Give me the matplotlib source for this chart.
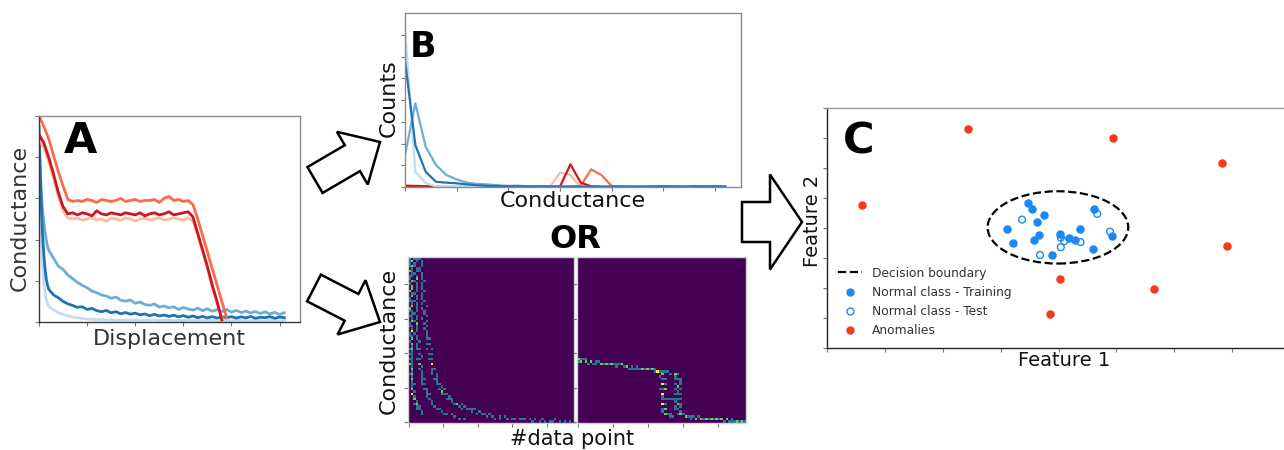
import numpy as np
import matplotlib
matplotlib.use("Agg")
import matplotlib.pyplot as plt
import matplotlib.patches as mpatches
from matplotlib.lines import Line2D

FIG_W, FIG_H = 1284, 450

# ---------------- panel A: conductance traces ----------------
blue_x = [0, 5, 10, 15, 20, 25, 30, 35] + list(range(40, 1040, 20))
blue_light = [0.88, 0.62, 0.42, 0.28, 0.19, 0.14, 0.11, 0.09,
              0.075, 0.060, 0.045, 0.036, 0.030, 0.024, 0.021, 0.017, 0.014, 0.013,
              0.011, 0.012, 0.009, 0.011, 0.008, 0.010, 0.009, 0.008, 0.010, 0.007,
              0.009, 0.008, 0.010, 0.007, 0.009, 0.008, 0.007, 0.009, 0.006, 0.008,
              0.007, 0.009, 0.006, 0.008, 0.007, 0.006, 0.008, 0.007, 0.006, 0.008,
              0.006, 0.007, 0.005, 0.007, 0.006, 0.005, 0.007, 0.006, 0.005, 0.006]
blue_mid = [0.89, 0.75, 0.62, 0.54, 0.49, 0.44, 0.40, 0.37,
            0.350, 0.310, 0.272, 0.255, 0.228, 0.210, 0.192, 0.178, 0.166, 0.150,
            0.142, 0.131, 0.126, 0.115, 0.121, 0.106, 0.101, 0.107, 0.091, 0.097,
            0.085, 0.081, 0.088, 0.072, 0.078, 0.068, 0.074, 0.061, 0.071, 0.063,
            0.058, 0.067, 0.055, 0.064, 0.052, 0.060, 0.050, 0.061, 0.048, 0.056,
            0.046, 0.053, 0.044, 0.051, 0.041, 0.049, 0.039, 0.047, 0.036, 0.045]
blue_dark = [0.95, 0.74, 0.55, 0.42, 0.33, 0.26, 0.21, 0.18,
             0.160, 0.132, 0.118, 0.100, 0.088, 0.080, 0.071, 0.074, 0.061, 0.066,
             0.055, 0.050, 0.056, 0.045, 0.050, 0.040, 0.046, 0.038, 0.043, 0.035,
             0.039, 0.031, 0.037, 0.029, 0.034, 0.027, 0.033, 0.025, 0.031, 0.023,
             0.029, 0.021, 0.027, 0.020, 0.026, 0.019, 0.025, 0.021, 0.026, 0.019,
             0.025, 0.020, 0.027, 0.018, 0.023, 0.021, 0.026, 0.018, 0.024, 0.021]

RED_STEP = 20  # red traces sampled every 20 points
red_pale = [0.88, 0.85, 0.78, 0.70, 0.61, 0.54, 0.505, 0.50,
            0.505, 0.495, 0.50, 0.505, 0.495, 0.50, 0.49, 0.505, 0.50, 0.495, 0.505, 0.50,
            0.49, 0.50, 0.505, 0.495, 0.50, 0.505, 0.495, 0.50, 0.505, 0.50, 0.495, 0.505,
            0.49, 0.42, 0.34, 0.26, 0.17, 0.09, 0.02]
red_orange = [1.00, 0.95, 0.89, 0.81, 0.73, 0.66, 0.595, 0.585,
              0.59, 0.585, 0.595, 0.59, 0.58, 0.595, 0.59, 0.585, 0.59, 0.60, 0.585, 0.59,
              0.595, 0.585, 0.59, 0.59, 0.595, 0.58, 0.60, 0.61, 0.59, 0.595, 0.585, 0.59,
              0.57, 0.50, 0.42, 0.34, 0.26, 0.18, 0.10, 0.02]
red_dark = [0.91, 0.87, 0.80, 0.72, 0.63, 0.56, 0.525, 0.53,
            0.52, 0.53, 0.525, 0.515, 0.54, 0.525, 0.52, 0.53, 0.525, 0.52, 0.53, 0.525,
            0.52, 0.53, 0.515, 0.525, 0.53, 0.52, 0.525, 0.535, 0.52, 0.525, 0.53, 0.535,
            0.51, 0.43, 0.35, 0.27, 0.18, 0.10, 0.01]

# ---------------- panel B: conductance histograms ----------------
HIST_BIN = 0.2
hist_blue_light = [7.30, 0.70, 0.18, 0.03, 0, 0, 0, 0,
                   0, 0, 0, 0, 0, 0, 0, 0,
                   0, 0, 0, 0, 0, 0, 0, 0,
                   0, 0, 0, 0, 0, 0, 0, 0]
hist_blue_mid = [1.47, 3.85, 1.85, 1.01, 0.55, 0.35, 0.20, 0.14,
                 0.12, 0.08, 0.05, 0.06, 0.03, 0.02, 0.02, 0.01,
                 0.01, 0, 0, 0, 0, 0, 0, 0,
                 0, 0, 0, 0, 0, 0, 0, 0]
hist_blue_dark = [5.84, 1.93, 0.70, 0.24, 0.20, 0.17, 0.12, 0.08,
                  0.05, 0.04, 0.03, 0.03, 0.02, 0.03, 0.02, 0.02,
                  0.02, 0.02, 0.02, 0.02, 0.02, 0.02, 0.02, 0.02,
                  0.02, 0.02, 0.02, 0.02, 0.02, 0.02, 0.02, 0.02]
hist_red_pale = [0.04, 0.04, 0.03, 0, 0, 0, 0, 0,
                 0, 0, 0, 0, 0, 0, 0, 0.66,
                 0.55, 0, 0, 0, 0, 0, 0, 0,
                 0, 0, 0, 0, 0, 0, 0, 0]
hist_red_orange = [0.03, 0.03, 0.02, 0, 0, 0, 0, 0,
                   0, 0, 0, 0, 0, 0, 0, 0,
                   0, 0.05, 0.81, 0.55, 0.04, 0.02, 0, 0,
                   0.02, 0, 0.03, 0, 0, 0.02, 0, 0]
hist_red_dark = [0.06, 0.05, 0.04, 0.01, 0, 0, 0, 0,
                 0, 0, 0, 0, 0, 0, 0, 0.03,
                 1.04, 0.20, 0.03, 0, 0, 0, 0, 0,
                 0, 0.03, 0, 0, 0.03, 0, 0.03, 0]

# ---------------- 2D histograms: (#data point, conductance) samples ----------------
heat_left_1 = [(1, 99), (2, 98), (1, 96), (3, 95), (2, 93), (1, 92), (2, 90), (3, 89), (1, 87), (2, 86),
               (1, 84), (3, 82), (2, 81), (1, 79), (2, 77), (3, 76), (1, 74), (2, 72), (2, 71), (1, 69),
               (3, 67), (2, 66), (1, 64), (2, 62), (3, 61), (1, 59), (2, 57), (2, 56), (1, 54), (3, 52),
               (2, 51), (1, 49), (2, 47), (3, 46), (2, 44), (1, 42), (2, 41), (3, 39), (2, 37), (1, 36),
               (2, 34), (3, 32), (2, 31), (2, 29), (3, 27), (2, 26), (3, 24), (2, 22), (3, 21), (4, 19),
               (3, 17), (4, 16), (4, 14), (5, 12), (4, 11), (5, 10), (6, 9), (7, 8), (8, 7), (9, 6),
               (1, 92), (2, 81), (1, 69), (2, 56), (2, 44), (1, 36), (2, 29), (3, 17),
               (0.5, 98), (3, 97), (0.5, 94), (2, 95), (3, 91), (1, 88), (3, 85), (2, 83), (0.5, 80),
               (3, 78), (1, 75), (2, 73), (3, 70), (1, 67), (2, 65), (3, 63), (1, 60), (2, 58), (3, 55),
               (1, 52), (2, 50), (3, 48), (1, 45), (3, 43), (2, 40), (1, 38), (3, 35), (2, 33), (1, 30),
               (3, 28), (2, 25), (4, 23), (3, 20), (2, 18), (4, 15), (5, 13), (6, 11), (7, 10)]
heat_left_2 = [(5, 99), (4, 96), (5, 93), (4, 90), (5, 87), (6, 84), (5, 81), (4, 78), (5, 75), (6, 72),
               (5, 69), (4, 66), (5, 63), (6, 60), (5, 57), (4, 54), (6, 51), (5, 48), (6, 45), (7, 42),
               (6, 39), (7, 36), (7, 33), (8, 30), (8, 27), (9, 25), (9, 23), (10, 21), (11, 19), (11, 17),
               (12, 16), (13, 14), (14, 13), (15, 11), (16, 10), (17, 9), (19, 8), (20, 7), (22, 6), (24, 5),
               (26, 5), (28, 4), (31, 3), (34, 3), (5, 87), (6, 60), (7, 36),
               (4, 99), (6, 97), (4, 94), (6, 91), (5, 88), (4, 85), (6, 82), (5, 79), (6, 76), (4, 73),
               (6, 70), (5, 67), (6, 64), (4, 61), (6, 58), (5, 55), (5, 52), (7, 49), (6, 46), (7, 44),
               (8, 40), (7, 38), (8, 34), (9, 31), (9, 28), (10, 26), (10, 24), (12, 20), (13, 18)]
heat_left_3 = [(7, 99), (8, 96), (7, 93), (8, 90), (8, 87), (9, 84), (8, 81), (9, 78), (8, 75), (9, 72),
               (9, 69), (10, 66), (9, 63), (10, 60), (10, 57), (11, 54), (11, 51), (12, 48), (12, 45), (13, 42),
               (13, 39), (14, 36), (14, 33), (15, 31), (15, 29), (16, 27), (17, 25), (18, 23), (19, 21), (20, 19),
               (21, 18), (22, 17), (23, 15), (25, 14), (26, 13), (28, 12), (29, 11), (31, 10), (33, 9), (35, 8),
               (37, 8), (39, 7), (41, 6), (44, 5), (47, 4), (50, 4), (53, 3), (56, 3), (60, 3), (63, 2),
               (67, 2), (71, 2), (75, 1), (79, 1), (83, 1), (87, 1), (92, 1), (97, 1), (14, 36), (20, 19),
               (8, 98), (9, 94), (7, 91), (9, 88), (10, 85), (8, 83), (10, 79), (9, 76), (10, 73), (11, 70),
               (10, 68), (11, 64), (11, 61), (12, 58), (12, 55), (12, 52), (13, 50), (13, 47), (14, 44), (14, 41),
               (15, 38), (15, 35), (16, 32), (17, 30), (17, 28), (18, 26), (19, 24), (21, 22), (22, 20), (24, 18),
               (25, 16), (27, 15), (30, 12), (32, 11), (34, 10), (38, 9), (40, 8), (43, 7), (46, 6), (49, 5),
               (55, 4), (58, 4), (65, 3), (69, 3), (73, 2), (77, 2), (81, 2), (85, 1), (89, 2), (94, 1)]
heat_right_1 = [(0, 38), (2, 37), (4, 38), (6, 37), (8, 37), (10, 36), (13, 37), (15, 36), (18, 35), (20, 36),
                (23, 35), (25, 35), (28, 34), (30, 34), (33, 33), (35, 34), (38, 33), (40, 33), (43, 32), (45, 32),
                (47, 31), (49, 31), (50, 30), (51, 29), (50, 27), (52, 26), (51, 24), (50, 23), (51, 21), (52, 20),
                (50, 18), (51, 17), (52, 15), (51, 14), (50, 12), (51, 11), (52, 9), (50, 8), (51, 7), (52, 6),
                (53, 5), (54, 5), (51, 24), (50, 12), (52, 20), (51, 17), (54, 15), (56, 15), (57, 15), (55, 4),
                (56, 5), (57, 4), (1, 38), (3, 37), (5, 38), (11, 37), (17, 36), (22, 35), (27, 35), (32, 34),
                (37, 33), (42, 33), (46, 32), (48, 31), (49, 28), (52, 24), (50, 16), (52, 11), (49, 20), (53, 8)]
heat_right_2 = [(1, 37), (3, 38), (5, 37), (7, 36), (9, 37), (12, 36), (14, 36), (16, 35), (19, 35), (21, 35),
                (24, 34), (26, 35), (29, 34), (31, 33), (34, 33), (36, 33), (39, 32), (41, 32), (44, 32), (46, 31),
                (48, 31), (50, 31), (52, 31), (54, 31), (56, 30), (58, 30), (59, 30), (60, 29), (59, 28), (60, 26),
                (61, 25), (59, 24), (60, 22), (61, 21), (60, 19), (59, 18), (60, 17), (61, 15), (60, 14), (59, 13),
                (60, 11), (61, 10), (60, 9), (59, 8), (60, 6), (61, 5), (60, 22), (60, 11), (62, 5), (64, 4),
                (66, 4), (68, 4), (70, 3), (72, 4), (74, 3), (76, 3), (78, 3), (80, 2), (82, 3), (84, 2),
                (86, 2), (88, 2), (90, 1), (92, 2), (94, 1), (96, 1), (98, 1),
                (58, 27), (61, 23), (59, 20), (61, 17), (58, 15), (61, 12), (59, 10), (61, 7), (62, 26),
                (63, 5), (65, 4), (67, 3), (69, 4), (71, 3), (73, 3), (75, 3), (77, 2), (79, 3), (81, 2),
                (83, 2), (85, 2), (87, 1), (89, 2), (91, 1), (93, 1), (95, 1), (97, 1), (99, 1)]
HEAT_BINS = 66

# ---------------- panel C: feature space ----------------
train_x = [3.48, 3.54, 3.75, 3.63, 3.11, 3.66, 3.22, 3.57, 4.02, 4.18, 4.29, 4.37, 4.61, 4.92, 4.60, 3.89]
train_y = [4.83, 4.63, 4.42, 4.19, 3.96, 3.77, 3.49, 3.61, 3.79, 3.68, 3.60, 3.96, 4.64, 3.73, 3.29, 3.11]
test_x = [3.37, 4.67, 4.89, 4.04, 4.10, 4.38, 4.04, 3.68]
test_y = [4.28, 4.47, 3.88, 3.68, 3.56, 3.53, 3.36, 3.10]
anom_x = [2.43, 4.95, 6.83, 0.61, 6.91, 4.03, 5.65, 3.85]
anom_y = [7.30, 7.00, 6.18, 4.77, 3.40, 2.31, 1.96, 1.14]
boundary_center = (3.99, 4.02)
boundary_size = (2.43, 2.41)

BLUES = ["#c6dbef", "#6baed6", "#2171b5"]
REDS = ["#fcbba1", "#fb6a4a", "#cb181d"]
C_BLUE = "#1e88f2"
C_RED = "#f53a1d"


def box(left, top, right, bottom):
    """Pixel box (origin top-left) -> figure fraction rect."""
    return [left / FIG_W, 1 - bottom / FIG_H,
            (right - left) / FIG_W, (bottom - top) / FIG_H]


def style(ax, dark=None, light="#8c8c8c"):
    for name, sp in ax.spines.items():
        sp.set_color(dark if (dark and name in ("left", "bottom")) else light)
        sp.set_linewidth(1.0)
    ax.tick_params(length=3, width=0.8, color="#777777",
                   labelbottom=False, labelleft=False)


def heat_counts(traces):
    pts = np.concatenate([np.array(t, dtype=float) for t in traces])
    counts, _, _ = np.histogram2d(pts[:, 0], pts[:, 1], bins=HEAT_BINS,
                                  range=[[0, 100], [0, 100]])
    return counts.T


fig = plt.figure(figsize=(FIG_W / 100, FIG_H / 100), dpi=100)


def put(x, y, s, **kw):
    fig.text(x / FIG_W, 1 - y / FIG_H, s, **kw)


# panel A
axA = fig.add_axes(box(39, 116, 300, 322))
for ys, c in zip([blue_light, blue_mid, blue_dark], BLUES):
    axA.plot(blue_x, ys, color=c, lw=2.0)
for ys, c in zip([red_pale, red_orange, red_dark], REDS):
    axA.plot(np.arange(len(ys)) * RED_STEP, ys, color=c, lw=2.0)
axA.set_xlim(0, 1085)
axA.set_ylim(0, 1.0)
axA.set_xticks(range(0, 1001, 200))
axA.set_yticks(np.arange(0, 1.01, 0.2))
style(axA, dark="#3a3a3a")

# panel B
axB = fig.add_axes(box(405, 13, 741, 187))
hx = np.arange(len(hist_blue_dark)) * HIST_BIN
for ys, c in zip([hist_red_pale, hist_red_orange, hist_red_dark], REDS):
    axB.plot(hx, ys, color=c, lw=1.6)
for ys, c in zip([hist_blue_light, hist_blue_mid, hist_blue_dark], BLUES):
    axB.plot(hx, ys, color=c, lw=1.6)
axB.set_xlim(0, 6.5)
axB.set_ylim(0, 8)
axB.set_xticks(range(7))
axB.set_yticks(range(8))
style(axB)

# 2D histograms
for rect, traces in [((408, 257, 574, 423), [heat_left_1, heat_left_2, heat_left_3]),
                     ((577, 257, 746, 423), [heat_right_1, heat_right_2])]:
    axH = fig.add_axes(box(*rect))
    axH.imshow(heat_counts(traces), origin="lower", cmap="viridis", vmin=0, vmax=2.6,
               extent=(-0.5, 95.8, -0.5, 95.8), aspect="auto", interpolation="nearest")
    axH.set_xticks(range(0, 81, 20))
    axH.set_yticks(range(0, 81, 20))
    style(axH, light="#d0d0d0")

# panel C
axC = fig.add_axes(box(827, 108, 1290, 348))
axC.add_patch(mpatches.Ellipse(boundary_center, *boundary_size, fill=False,
                               ls="--", lw=1.6, color="black"))
axC.scatter(train_x, train_y, s=26, color=C_BLUE, zorder=3)
axC.scatter(test_x, test_y, s=24, facecolors="none", edgecolors=C_BLUE, lw=1.0, zorder=3)
axC.scatter(anom_x, anom_y, s=26, color=C_RED, zorder=3)
axC.set_xlim(0, 8)
axC.set_ylim(0, 8)
axC.set_xticks(range(9))
axC.set_yticks(range(9))
style(axC, dark="#222222", light="#999999")
handles = [Line2D([], [], color="black", ls="--", lw=1.6),
           Line2D([], [], ls="none", marker="o", ms=5, color=C_BLUE),
           Line2D([], [], ls="none", marker="o", ms=5, mfc="none", mec=C_BLUE),
           Line2D([], [], ls="none", marker="o", ms=5, color=C_RED)]
leg = axC.legend(handles, ["Decision boundary", "Normal class - Training",
                           "Normal class - Test", "Anomalies"],
                 loc="lower left", frameon=False, fontsize=8.8, handlelength=2.0,
                 handletextpad=0.8)
for t in leg.get_texts():
    t.set_color("#333333")

# axis labels and panel letters
lab = dict(ha="center", va="center")
put(20, 218, "Conductance", rotation=90, fontsize=16, color="#333333", **lab)
put(169, 339, "Displacement", fontsize=16, color="#333333", **lab)
put(389, 98, "Counts", rotation=90, fontsize=16, color="#111111", **lab)
put(573, 201, "Conductance", fontsize=16, color="#111111", **lab)
put(389, 341, "Conductance", rotation=90, fontsize=16, color="#111111", **lab)
put(572, 439, "#data point", fontsize=15, color="#111111", **lab)
put(812, 221, "Feature 2", rotation=90, fontsize=14, color="#111111", **lab)
put(1064, 360, "Feature 1", fontsize=14, color="#111111", **lab)

bold = dict(fontweight="bold", va="baseline", color="black")
put(64, 153, "A", fontsize=31, ha="left", **bold)
put(410, 57, "B", fontsize=25, ha="left", **bold)
put(843, 154, "C", fontsize=31, ha="left", **bold)
put(575, 248, "OR", fontsize=23, ha="center", **bold)

# hollow block arrows drawn in pixel space
over = fig.add_axes([0, 0, 1, 1])
over.set_xlim(0, FIG_W)
over.set_ylim(FIG_H, 0)
over.axis("off")
arrow_kw = dict(length_includes_head=True, fc="white", ec="black", lw=1.8, joinstyle="miter")
over.add_patch(mpatches.FancyArrow(315, 180, 65, -38, width=30, head_width=61,
                                   head_length=32, **arrow_kw))
over.add_patch(mpatches.FancyArrow(314, 288, 66, 34, width=30, head_width=61,
                                   head_length=32, **arrow_kw))
over.add_patch(mpatches.FancyArrow(742, 222, 60, 0, width=40, head_width=95,
                                   head_length=32, **arrow_kw))

fig.savefig("out.png", dpi=100)
